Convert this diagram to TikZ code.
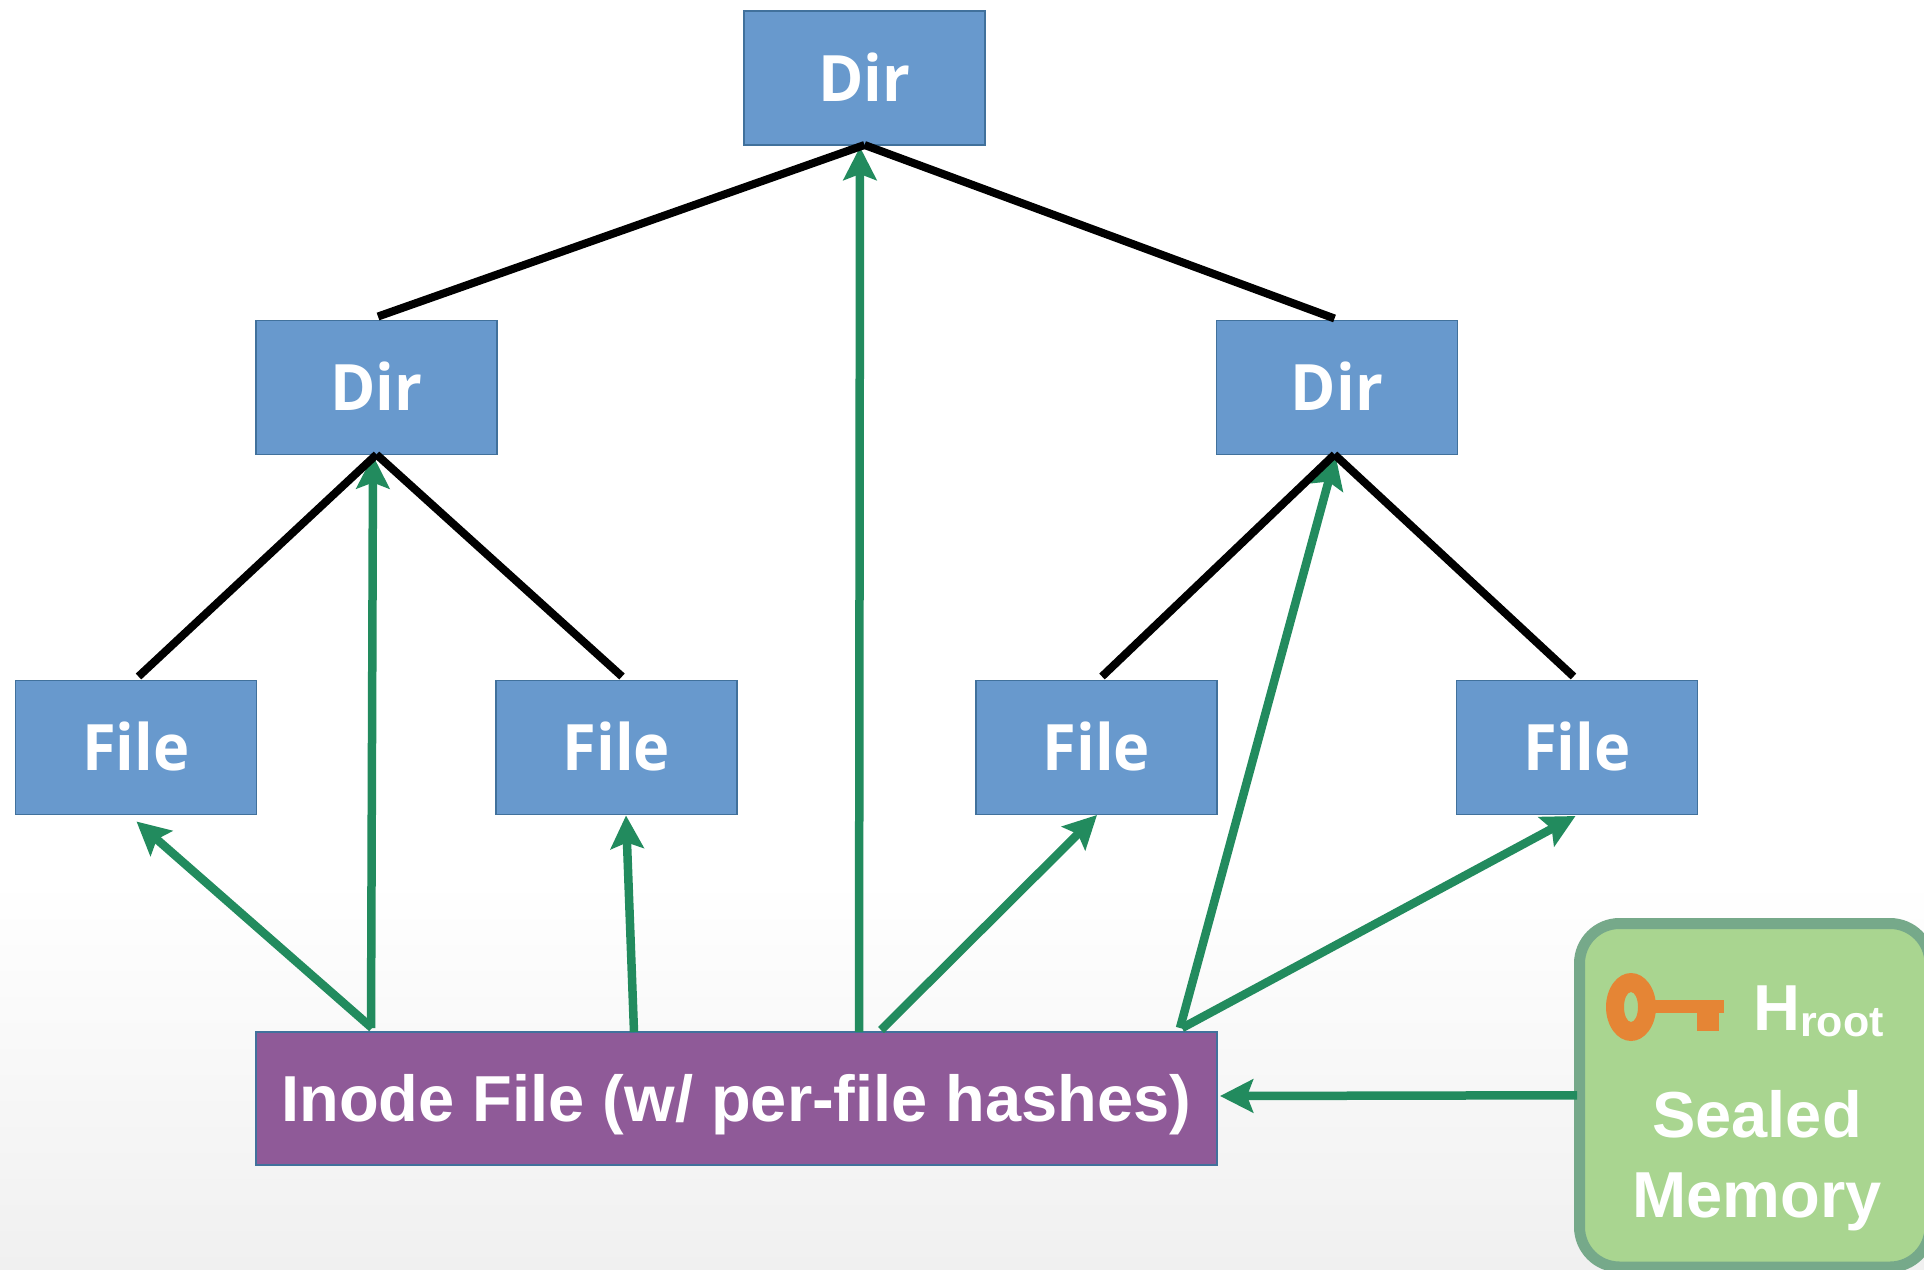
\documentclass[tikz,border=0pt]{standalone}
\usepackage{fontspec}
\setmainfont{Liberation Sans}
\newfontfamily\boxfont[FakeStretch=0.96]{Open Sans}
\usetikzlibrary{arrows.meta}
\definecolor{boxblue}{HTML}{6899CD}
\definecolor{boxedge}{HTML}{41719C}
\definecolor{inodepurple}{HTML}{8F5A98}
\definecolor{linkgreen}{HTML}{228B5E}
\definecolor{sealfill}{HTML}{A9D590}
\definecolor{sealedge}{HTML}{76A98A}
\definecolor{keyorange}{HTML}{E58535}
\definecolor{paperend}{HTML}{F0F0F0}
\tikzset{
  blockbase/.style={rectangle,draw=boxedge,line width=1.2pt,inner sep=0pt,outer sep=0pt,text=white,
    text height=46pt,text depth=0pt,font=\boxfont\bfseries\fontsize{64}{70}\selectfont},
  dirbox/.style={blockbase,fill=boxblue,minimum width=241pt,minimum height=134pt},
  inodebox/.style={blockbase,fill=inodepurple,minimum width=961pt,minimum height=133pt,
    font=\bfseries\fontsize{65}{70}\selectfont},
  sealbox/.style={rectangle,rounded corners=40pt,draw=sealedge,fill=sealfill,line width=11pt,
    minimum width=350.5pt,minimum height=343.5pt,inner sep=0pt,outer sep=0pt},
  sealtext/.style={anchor=base,text=white,inner sep=0pt,font=\bfseries\fontsize{65}{70}\selectfont},
  treeline/.style={draw=black,line width=8pt},
  hashlink/.style={draw=linkgreen,line width=8.5pt,-{Stealth[length=33pt,width=33pt,inset=6pt]}},
  keypart/.style={fill=keyorange,draw=none}
}
\begin{document}
\begin{tikzpicture}[x=1pt,y=-1pt]
\useasboundingbox (0,0) rectangle (1924,1269);
\clip (0,0) rectangle (1924,1269);
\fill[white] (0,0) rectangle (1924,880);
\shade[top color=white,bottom color=paperend] (0,880) rectangle (1924,1269);

% tree nodes
\node[dirbox] (dtop) at (864.5,78) {Dir};
\node[dirbox] (dl) at (376.5,387.5) {Dir};
\node[dirbox] (dr) at (1337,387.5) {Dir};
\node[dirbox] (f1) at (136,747.5) {File};
\node[dirbox] (f2) at (616.5,747.5) {File};
\node[dirbox] (f3) at (1096.5,747.5) {File};
\node[dirbox] (f4) at (1577,747.5) {File};
\node[inodebox] (inode) at (736.5,1098.5) {Inode File (w/ per-file hashes)};
\node[sealbox] (seal) at (1754.75,1095.25) {};

% hash links
\draw[hashlink] ([xshift=116pt,yshift=4pt]inode.north west) -- ([xshift=121pt,yshift=-7pt]f1.south west);
\draw[hashlink] ([xshift=115pt,yshift=4pt]inode.north west) -- ([xshift=117pt,yshift=-1pt]dl.south west);
\draw[hashlink] ([xshift=378pt]inode.north west) -- ([xshift=130pt,yshift=-1pt]f2.south west);
\draw[hashlink] ([xshift=603pt]inode.north west) -- ([xshift=116pt,yshift=-2pt]dtop.south west);
\draw[hashlink] ([xshift=625pt,yshift=2pt]inode.north west) -- ([xshift=121pt,yshift=-0.5pt]f3.south west);
\draw[hashlink] ([xshift=924pt,yshift=4pt]inode.north west) -- ([xshift=119pt,yshift=-1pt]dr.south west);
\draw[hashlink] ([xshift=926pt,yshift=4pt]inode.north west) -- ([xshift=119pt,yshift=-1.5pt]f4.south west);
\draw[hashlink] ([xshift=-2.5pt]seal.west) -- ([xshift=3pt,yshift=2.5pt]inode.east);

% tree edges
\draw[treeline] ([xshift=120.5pt]dtop.south west) -- ([xshift=122pt,yshift=4pt]dl.north west);
\draw[treeline] ([xshift=120.5pt]dtop.south west) -- ([xshift=118pt,yshift=2pt]dr.north west);
\draw[treeline] ([xshift=120.5pt]dl.south west) -- ([xshift=123pt,yshift=4pt]f1.north west);
\draw[treeline] ([xshift=120.5pt]dl.south west) -- ([xshift=126pt,yshift=4pt]f2.north west);
\draw[treeline] ([xshift=118pt]dr.south west) -- ([xshift=126pt,yshift=4pt]f3.north west);
\draw[treeline] ([xshift=118pt]dr.south west) -- ([xshift=117pt,yshift=4pt]f4.north west);

% key
\path[keypart,even odd rule] (1631,1007) ellipse [x radius=25,y radius=34] (1631,1007) ellipse [x radius=7,y radius=15];
\path[keypart] (1650,999.5) rectangle (1724,1013);
\path[keypart] (1697,1013) rectangle (1719,1031);

% sealed memory text
\node[sealtext,anchor=base west] (hroot) at (1753,1030) {H\raisebox{-6pt}{\fontsize{43}{50}\selectfont root}};
\node[sealtext] (sealed) at (1757,1137) {Sealed};
\node[sealtext] (memory) at (1757,1217) {Memory};
\end{tikzpicture}
\end{document}
